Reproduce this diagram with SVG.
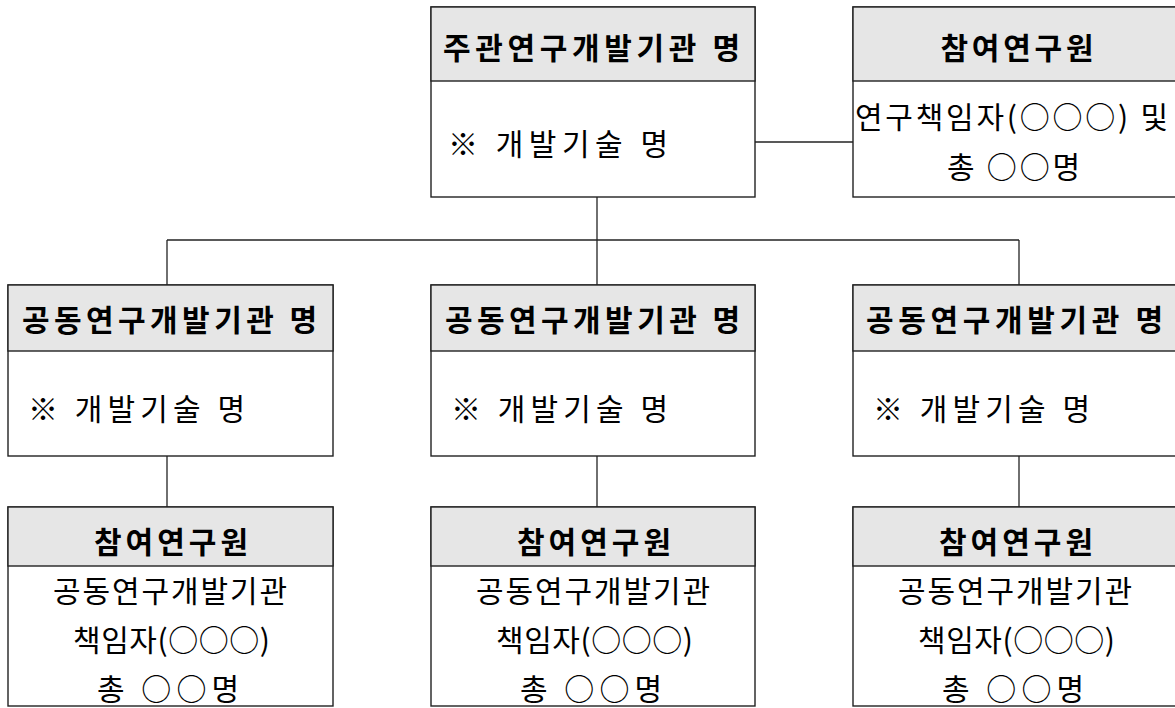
<svg xmlns="http://www.w3.org/2000/svg" width="1175" height="708" viewBox="0 0 1175 708">
<style>
.box{fill:#ffffff;stroke:#222;stroke-width:1.4}
.hdr{fill:#e6e6e6;stroke:#222;stroke-width:1.4}
.ln{stroke:#222;stroke-width:1.3;fill:none}
text{font-family:"Noto Sans CJK KR","Noto Sans",sans-serif;fill:#000;dominant-baseline:central}
.h{font-size:30px;font-weight:700;text-anchor:middle}
.b{font-size:30px;font-weight:400}
.c{font-size:30px;font-weight:400;text-anchor:middle}
</style>
<rect width="1175" height="708" fill="#ffffff"/>
<g id="connectors">
<line class="ln" x1="597" y1="197" x2="597" y2="240"/>
<line class="ln" x1="167" y1="240" x2="1019" y2="240"/>
<line class="ln" x1="167" y1="240" x2="167" y2="285"/>
<line class="ln" x1="597" y1="240" x2="597" y2="285"/>
<line class="ln" x1="1019" y1="240" x2="1019" y2="285"/>
<line class="ln" x1="755" y1="142" x2="853" y2="142"/>
<line class="ln" x1="167" y1="456" x2="167" y2="507"/>
<line class="ln" x1="597" y1="456" x2="597" y2="507"/>
<line class="ln" x1="1019" y1="456" x2="1019" y2="507"/>
</g>
<g id="main">
<rect class="box" x="431" y="7" width="324" height="190"/>
<rect class="hdr" x="431" y="7" width="324" height="74"/>
<text class="h" x="591.5" y="46" textLength="297" lengthAdjust="spacing">주관연구개발기관 명</text>
<text class="b" x="448" y="142" textLength="220" lengthAdjust="spacing">※ 개발기술 명</text>
</g>
<g id="main-staff">
<rect class="box" x="853" y="7" width="325" height="190"/>
<rect class="hdr" x="853" y="7" width="325" height="74"/>
<text class="h" x="1017" y="46" textLength="153" lengthAdjust="spacing">참여연구원</text>
<text class="c" x="1011.5" y="115" textLength="313" lengthAdjust="spacing">연구책임자(○○○) 및</text>
<text class="c" x="1013.5" y="165" textLength="133" lengthAdjust="spacing">총 ○○명</text>
</g>
<g id="co1">
<rect class="box" x="8" y="285" width="325" height="171"/>
<rect class="hdr" x="8" y="285" width="325" height="66"/>
<text class="h" x="169.5" y="318" textLength="295" lengthAdjust="spacing">공동연구개발기관 명</text>
<text class="b" x="28" y="407" textLength="217" lengthAdjust="spacing">※ 개발기술 명</text>
</g>
<g id="co2">
<rect class="box" x="431" y="285" width="324" height="171"/>
<rect class="hdr" x="431" y="285" width="324" height="66"/>
<text class="h" x="592.5" y="318" textLength="295" lengthAdjust="spacing">공동연구개발기관 명</text>
<text class="b" x="451" y="407" textLength="217" lengthAdjust="spacing">※ 개발기술 명</text>
</g>
<g id="co3">
<rect class="box" x="853" y="285" width="325" height="171"/>
<rect class="hdr" x="853" y="285" width="325" height="66"/>
<text class="h" x="1014.5" y="318" textLength="297" lengthAdjust="spacing">공동연구개발기관 명</text>
<text class="b" x="873" y="407" textLength="217" lengthAdjust="spacing">※ 개발기술 명</text>
</g>
<g id="staff1">
<rect class="box" x="8" y="507" width="325" height="199"/>
<rect class="hdr" x="8" y="507" width="325" height="59"/>
<text class="h" x="171" y="540" textLength="154" lengthAdjust="spacing">참여연구원</text>
<text class="c" x="170" y="589" textLength="234" lengthAdjust="spacing">공동연구개발기관</text>
<text class="c" x="171.5" y="638" textLength="197" lengthAdjust="spacing">책임자(○○○)</text>
<text class="c" x="168" y="687" textLength="142" lengthAdjust="spacing">총 ○○명</text>
</g>
<g id="staff2">
<rect class="box" x="431" y="507" width="324" height="199"/>
<rect class="hdr" x="431" y="507" width="324" height="59"/>
<text class="h" x="594" y="540" textLength="154" lengthAdjust="spacing">참여연구원</text>
<text class="c" x="593" y="589" textLength="234" lengthAdjust="spacing">공동연구개발기관</text>
<text class="c" x="594.5" y="638" textLength="197" lengthAdjust="spacing">책임자(○○○)</text>
<text class="c" x="591" y="687" textLength="142" lengthAdjust="spacing">총 ○○명</text>
</g>
<g id="staff3">
<rect class="box" x="853" y="507" width="325" height="199"/>
<rect class="hdr" x="853" y="507" width="325" height="59"/>
<text class="h" x="1016" y="540" textLength="154" lengthAdjust="spacing">참여연구원</text>
<text class="c" x="1015" y="589" textLength="234" lengthAdjust="spacing">공동연구개발기관</text>
<text class="c" x="1016.5" y="638" textLength="197" lengthAdjust="spacing">책임자(○○○)</text>
<text class="c" x="1013" y="687" textLength="142" lengthAdjust="spacing">총 ○○명</text>
</g>
</svg>
